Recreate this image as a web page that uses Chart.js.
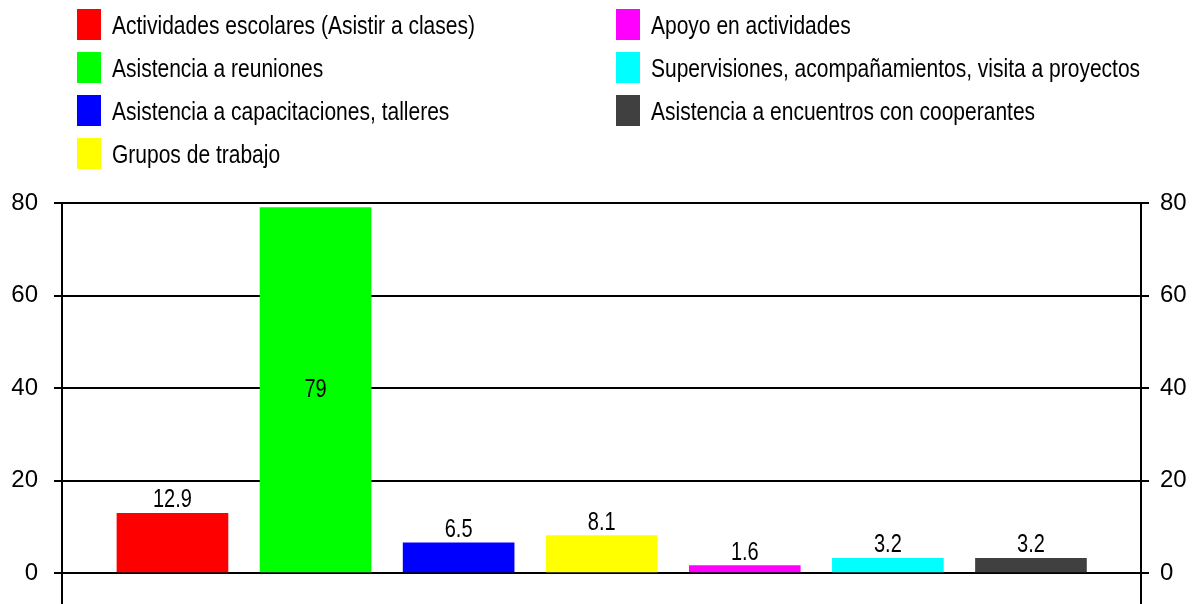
<!DOCTYPE html>
<html>
<head>
<meta charset="utf-8">
<script src="https://cdn.jsdelivr.net/npm/chart.js@4"></script>
<style>
  body { margin: 0; background: #fff; }
  #wrap { position: relative; width: 1195px; height: 604px; }
  #leyenda {
    position: absolute; left: 77px; top: 9px;
    display: grid;
    grid-template-columns: 539px auto;
    grid-template-rows: repeat(4, 43px);
    grid-auto-flow: column;
    font-family: "Liberation Sans", Arial, sans-serif;
    font-size: 21px; color: #000;
  }
  #leyenda .item { display: flex; align-items: flex-start; height: 43px; }
  #leyenda .caja { width: 24px; height: 31px; margin-right: 11px; flex: none; }
  #leyenda .txt {
    line-height: 31px; white-space: nowrap;
    display: inline-block; transform: scaleY(1.25); transform-origin: left center;
  }
</style>
</head>
<body>
<div id="wrap">
  <canvas id="grafica"></canvas>
  <div id="leyenda"></div>
</div>
<script>
const categorias = [
  "Actividades escolares (Asistir a clases)",
  "Asistencia a reuniones",
  "Asistencia a capacitaciones, talleres",
  "Grupos de trabajo",
  "Apoyo en actividades",
  "Supervisiones, acompañamientos, visita a proyectos",
  "Asistencia a encuentros con cooperantes"
];
const valores = [12.9, 79, 6.5, 8.1, 1.6, 3.2, 3.2];
const colores = ["#FF0000", "#00FF00", "#0000FF", "#FFFF00", "#FF00FF", "#00FFFF", "#404040"];
const ticksY = [0, 20, 40, 60, 80];

const fuente = "'Liberation Sans', Arial, sans-serif";

// leyenda en html, dos columnas
const leyendaHtml = {
  id: "leyendaHtml",
  afterUpdate(chart) {
    const cont = document.getElementById("leyenda");
    cont.innerHTML = "";
    categorias.forEach((cat, i) => {
      const item = document.createElement("div");
      item.className = "item";
      const caja = document.createElement("span");
      caja.className = "caja";
      caja.style.background = colores[i];
      const txt = document.createElement("span");
      txt.className = "txt";
      txt.textContent = cat;
      item.appendChild(caja);
      item.appendChild(txt);
      cont.appendChild(item);
    });
  }
};

// etiquetas de valor sobre las barras
const etiquetas = {
  id: "etiquetas",
  afterDatasetsDraw(chart) {
    const c = chart.ctx;
    const meta = chart.getDatasetMeta(0);
    meta.data.forEach((bar, i) => {
      const txt = String(valores[i]);
      c.save();
      c.font = "20px " + fuente;
      c.fillStyle = "#000";
      c.textAlign = "center";
      if (bar.y - 26 < chart.chartArea.top) {
        c.translate(bar.x, (bar.y + bar.base) / 2);
        c.textBaseline = "middle";
      } else {
        c.translate(bar.x, bar.y - 6);
        c.textBaseline = "alphabetic";
      }
      c.scale(1, 1.3);
      c.fillText(txt, 0, 0);
      c.restore();
    });
  }
};

const ejeY = (lado) => ({
  position: lado,
  min: -6.7,
  max: 80,
  afterBuildTicks: (eje) => { eje.ticks = ticksY.map(v => ({ value: v })); },
  afterFit: (eje) => {
    eje.width = lado === "left" ? 62 : 54;
    eje.paddingTop = 0;
    eje.paddingBottom = 0;
  },
  border: { display: true, color: "#000", width: 2 },
  grid: {
    color: "#000",
    lineWidth: 2,
    tickLength: 8,
    drawOnChartArea: lado === "left"
  },
  ticks: {
    color: "#000",
    padding: lado === "left" ? 16 : 11,
    font: { family: fuente, size: 24 }
  }
});

new Chart(document.getElementById("grafica"), {
  type: "bar",
  data: {
    datasets: [{
      data: valores.map((v, i) => ({ x: i, y: v })),
      backgroundColor: colores,
      barThickness: 111
    }]
  },
  options: {
    responsive: true,
    maintainAspectRatio: false,
    animation: false,
    layout: { padding: { top: 203, left: 0, right: 0, bottom: 0 } },
    plugins: {
      legend: { display: false },
      tooltip: { enabled: false }
    },
    scales: {
      x: {
        type: "linear",
        min: -0.772,
        max: 6.769,
        offset: false,
        display: false
      },
      y: ejeY("left"),
      y2: ejeY("right")
    }
  },
  plugins: [leyendaHtml, etiquetas]
});
</script>
</body>
</html>
